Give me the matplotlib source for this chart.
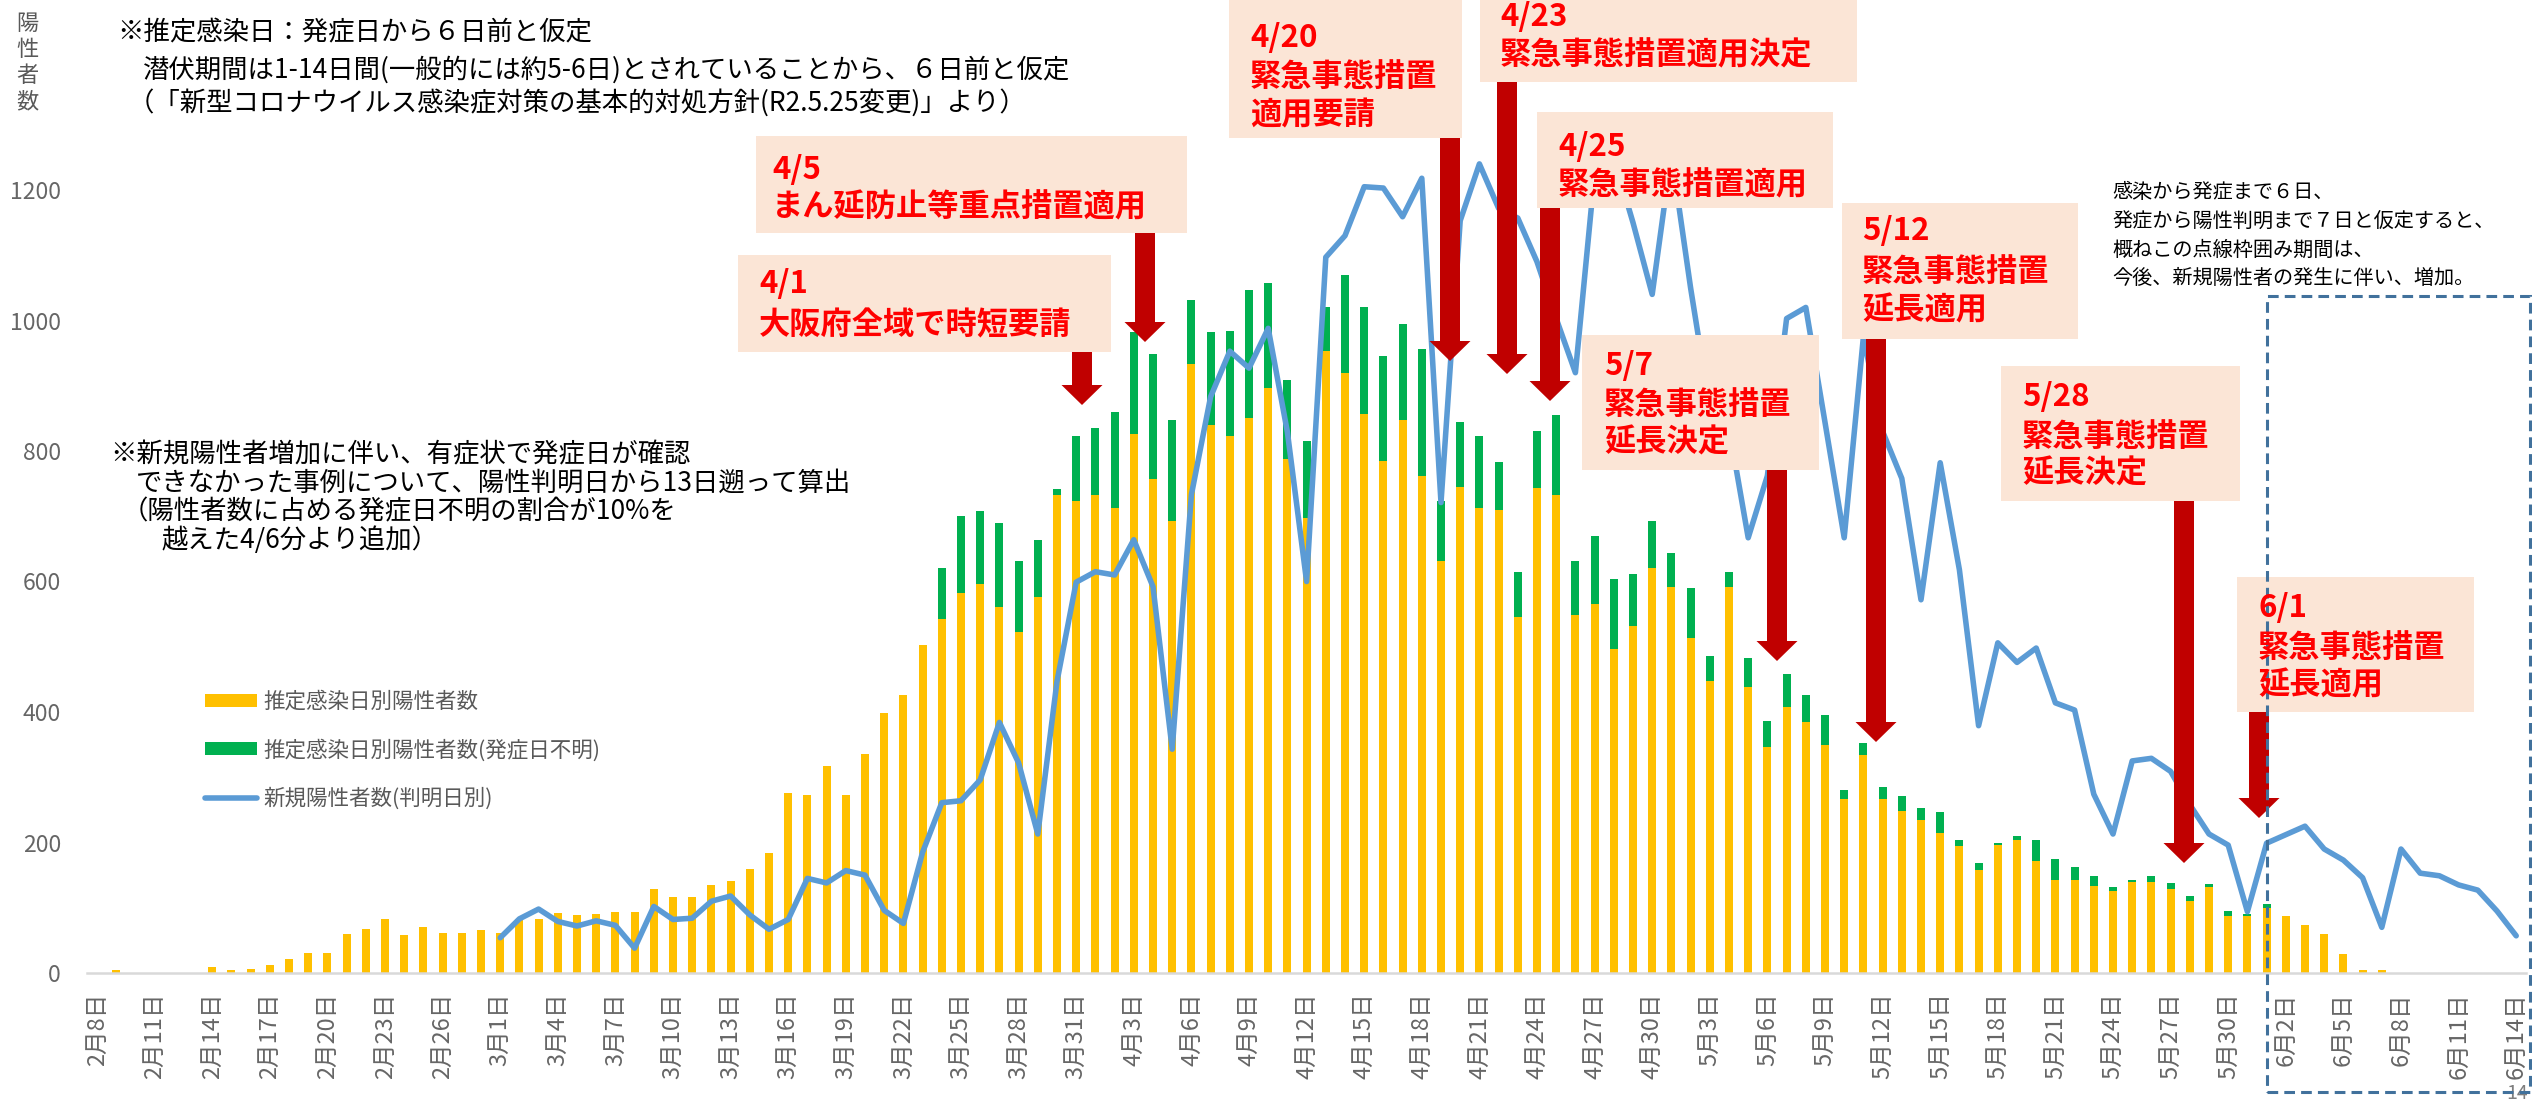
import numpy as np
import pandas as pd
import matplotlib
matplotlib.use('Agg')
import matplotlib.pyplot as plt
from matplotlib.patches import Rectangle, Polygon

plt.rcParams['font.family'] = ['Noto Sans CJK JP', 'DejaVu Sans']


# --- data

dates = pd.date_range('2021-02-08', '2021-06-14', freq='D')
tick_labels = [f'{d.month}月{d.day}日' for d in dates]

# 推定感染日別陽性者数 (2/8 - 6/14)
onset_feb = [0, 4, 0, 0, 0, 0, 9, 4, 6, 13, 21, 31, 31, 60, 68, 82, 58, 70, 62, 62, 66]
onset_mar = [62, 82, 82, 92, 89, 90, 94, 94, 129, 117, 117, 135, 141, 160, 184, 276,
             273, 318, 273, 336, 399, 426, 503, 543, 582, 596, 561, 522, 576, 732, 723]
onset_apr = [733, 713, 826, 757, 693, 934, 840, 823, 850, 897, 787, 698, 953, 920, 856,
             784, 848, 762, 631, 745, 713, 710, 546, 743, 733, 549, 565, 496, 532, 620]
onset_may = [591, 513, 447, 592, 439, 347, 407, 384, 349, 266, 334, 266, 248, 234, 215,
             195, 158, 196, 204, 171, 142, 142, 134, 126, 139, 139, 129, 110, 132, 88, 87]
onset_jun = [99, 87, 73, 60, 29, 5, 5, 0, 0, 0, 0, 0, 0, 0]

# 推定感染日別陽性者数(発症日不明) (3/24 - 6/1)
unknown_start = '2021-03-24'
unknown_vals = [77, 118, 112, 128, 109, 87, 9, 100,
                102, 147, 157, 191, 154, 98, 142, 161, 197, 160, 122, 118, 67, 149, 164,
                161, 146, 194, 92, 100, 110, 73, 69, 87, 122, 82, 104, 108, 79, 72,
                52, 77, 39, 23, 44, 39, 51, 42, 46, 14, 18, 19, 23, 19, 31, 9, 11, 3, 6,
                33, 33, 21, 15, 6, 3, 9, 9, 8, 5, 7, 4,
                6]

# 新規陽性者数(判明日別) (3/1 - 6/14)
reported_start = '2021-03-01'
reported_mar = [54, 83, 98, 79, 72, 80, 73, 38, 102, 82, 84, 110, 118, 89, 67, 82, 145,
                138, 157, 150, 96, 76, 185, 261, 264, 296, 384, 322, 213, 447, 599]
reported_apr = [615, 610, 664, 592, 343, 733, 883, 953, 927, 988, 829, 600, 1097, 1130,
                1205, 1203, 1159, 1218, 721, 1153, 1240, 1172, 1157, 1090, 1003, 920,
                1225, 1250, 1150, 1040]
reported_may = [1255, 1050, 866, 836, 667, 762, 1003, 1020, 844, 667, 975, 830, 758, 572,
                782, 618, 379, 506, 476, 498, 414, 403, 274, 213, 325, 329, 309, 258,
                213, 196, 94]
reported_jun = [199, 212, 225, 190, 173, 146, 70, 190, 153, 149, 135, 127, 95, 57]

series_labels = ['推定感染日別陽性者数', '推定感染日別陽性者数(発症日不明)', '新規陽性者数(判明日別)']


# --- annotations (text from the slide)

note_top = ['※推定感染日：発症日から６日前と仮定',
            '潜伏期間は1-14日間(一般的には約5-6日)とされていることから、６日前と仮定',
            '（「新型コロナウイルス感染症対策の基本的対処方針(R2.5.25変更)」より）']
note_mid = ['※新規陽性者増加に伴い、有症状で発症日が確認',
            'できなかった事例について、陽性判明日から13日遡って算出',
            '（陽性者数に占める発症日不明の割合が10%を',
            '越えた4/6分より追加）']
note_right = ['感染から発症まで６日、',
              '発症から陽性判明まで７日と仮定すると、',
              '概ねこの点線枠囲み期間は、',
              '今後、新規陽性者の発生に伴い、増加。']
event_texts = [['4/5', 'まん延防止等重点措置適用'],
               ['4/1', '大阪府全域で時短要請'],
               ['4/20', '緊急事態措置', '適用要請'],
               ['4/23', '緊急事態措置適用決定'],
               ['4/25', '緊急事態措置適用'],
               ['5/7', '緊急事態措置', '延長決定'],
               ['5/12', '緊急事態措置', '延長適用'],
               ['5/28', '緊急事態措置', '延長決定'],
               ['6/1', '緊急事態措置', '延長適用']]


# --- layout, in pixels of the 2532x1107 picture (y measured downwards)

W, H = 2532, 1107

def to_fig(px, py):
    return px / W, 1 - py / H

note_top_pos = [(117, 33), (143, 70), (128, 103)]
note_mid_pos = [(110, 455), (136, 483), (122, 512), (161, 540)]
note_right_pos = [(2112, 193), (2112, 222), (2112, 250), (2112, 278)]

# box (x0, y0, x1, y1), text left, text line centres, arrow centre x, arrow tip y
event_layout = [((756, 136, 1187, 233), 772, [170, 207], 1145, 342),
                ((738, 255, 1111, 352), 759, [284, 325], 1082, 405),
                ((1229, 0, 1462, 138), 1250, [38, 77, 115], 1450, 361),
                ((1480, 0, 1857, 82), 1500, [17, 55], 1507, 374),
                ((1537, 112, 1833, 208), 1558, [147, 185], 1550, 401),
                ((1582, 335, 1819, 470), 1604, [366, 405, 443], 1777, 661),
                ((1842, 203, 2078, 339), 1862, [231, 272, 310], 1876, 742),
                ((2001, 366, 2240, 501), 2022, [397, 437, 474], 2184, 863),
                ((2237, 577, 2474, 712), 2258, [608, 648, 685], 2259, 818)]


# --- build full series

n = len(dates)
onset = np.array(onset_feb + onset_mar + onset_apr + onset_may + onset_jun, dtype=float)

unknown = np.zeros(n)
i0 = dates.get_loc(pd.Timestamp(unknown_start))
unknown[i0:i0 + len(unknown_vals)] = unknown_vals

reported = np.array(reported_mar + reported_apr + reported_may + reported_jun, dtype=float)
r0 = dates.get_loc(pd.Timestamp(reported_start))

x = np.arange(n)


# --- figure

fig = plt.figure(figsize=(W / 100, H / 100), dpi=100)

ax_l, ax_r, ax_t, ax_b = 87.4, 2525.8, 59.5, 973
ax = fig.add_axes((ax_l / W, 1 - ax_b / H, (ax_r - ax_l) / W, (ax_b - ax_t) / H))

b1 = ax.bar(x, onset, width=0.42, color='#FFC000', zorder=2)
b2 = ax.bar(x, unknown, width=0.42, bottom=onset, color='#00B050', zorder=2)
ln, = ax.plot(x[r0:r0 + len(reported)], reported, color='#5B9BD5', lw=4, zorder=3,
              solid_joinstyle='round', solid_capstyle='round')

ax.set_xlim(-0.5, n - 0.5)
ax.set_ylim(0, 1400)
ax.set_yticks(np.arange(0, 1201, 200))
ax.set_xticks(x[::3])
ax.set_xticklabels(tick_labels[::3], rotation=90)
ax.tick_params(axis='both', length=0, labelcolor='#666666')
ax.tick_params(axis='x', labelsize=17, pad=14)
ax.tick_params(axis='y', labelsize=16.5, pad=19)

for s in ['top', 'right', 'left']:
    ax.spines[s].set_visible(False)
ax.spines['bottom'].set_color('#D9D9D9')
ax.spines['bottom'].set_linewidth(1.8)

ax.legend([b1, b2, ln], series_labels, loc='upper left',
          bbox_to_anchor=to_fig(205, 691), bbox_transform=fig.transFigure,
          frameon=False, fontsize=15.5, handlelength=2.4, handleheight=0.56,
          handletextpad=0.3, labelspacing=1.2, borderpad=0, borderaxespad=0,
          labelcolor='#595959')

# --- y axis title, written vertically

for k, ch in enumerate('陽性者数'):
    fig.text(*to_fig(27, 24 + 26 * k), ch, ha='center', va='center', fontsize=16, color='#595959')

# --- notes

for s, (px, py) in zip(note_top, note_top_pos):
    fig.text(*to_fig(px, py), s, ha='left', va='center', fontsize=19, color='black')
for s, (px, py) in zip(note_mid, note_mid_pos):
    fig.text(*to_fig(px, py), s, ha='left', va='center', fontsize=19, color='black')
for s, (px, py) in zip(note_right, note_right_pos):
    fig.text(*to_fig(px, py), s, ha='left', va='center', fontsize=14.5, color='black')

# --- event boxes and arrows

def add_arrow(xc, y_top, y_tip, shaft=20, head=41, head_len=20):
    pts = [(xc - shaft / 2, y_top), (xc + shaft / 2, y_top),
           (xc + shaft / 2, y_tip - head_len), (xc + head / 2, y_tip - head_len),
           (xc, y_tip),
           (xc - head / 2, y_tip - head_len), (xc - shaft / 2, y_tip - head_len)]
    fig.add_artist(Polygon([to_fig(*p) for p in pts], closed=True, transform=fig.transFigure,
                           facecolor='#C00000', edgecolor='none', zorder=4))

for lines, (box, tx, tys, axc, tip) in zip(event_texts, event_layout):
    x0, y0, x1, y1 = box
    fig.add_artist(Rectangle(to_fig(x0, y1), (x1 - x0) / W, (y1 - y0) / H,
                             transform=fig.transFigure, facecolor='#FBE5D6',
                             edgecolor='none', zorder=4))
    for s, ty in zip(lines, tys):
        fig.text(*to_fig(tx, ty), s, ha='left', va='center', fontsize=22.5,
                 fontweight='bold', color='#FF0000', zorder=6)
    add_arrow(axc, y1, tip)

# --- dashed frame round the last two weeks

fig.add_artist(Rectangle(to_fig(2267, 1092), (2530 - 2267) / W, (1092 - 296) / H,
                         transform=fig.transFigure, fill=False, edgecolor='#41719C',
                         linewidth=2.2, linestyle=(0, (3.5, 2)), zorder=5))

# page number in the bottom right corner
fig.text(*to_fig(2506, 1104), '14', ha='left', va='bottom', fontsize=14, color='#7F7F7F')

fig.savefig('out.png', dpi=100)
